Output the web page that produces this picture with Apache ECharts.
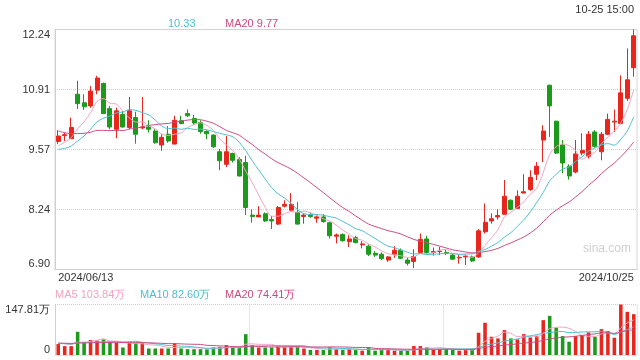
<!DOCTYPE html>
<html>
<head>
<meta charset="utf-8">
<script src="https://cdn.jsdelivr.net/npm/echarts@6/dist/echarts.min.js"></script>
<style>
html,body{margin:0;padding:0;background:#fff;}
#chart{width:640px;height:360px;}
</style>
</head>
<body>
<div id="chart"></div>
<script>
// ---- Data ----
const dates = [
 '2024/06/13','2024/06/14','2024/06/17','2024/06/18','2024/06/19','2024/06/20','2024/06/21','2024/06/24','2024/06/25','2024/06/26','2024/06/27','2024/06/28',
 '2024/07/01','2024/07/02','2024/07/03','2024/07/04','2024/07/05','2024/07/08','2024/07/09','2024/07/10','2024/07/11','2024/07/12','2024/07/15','2024/07/16','2024/07/17','2024/07/18','2024/07/19','2024/07/22','2024/07/23','2024/07/24','2024/07/25','2024/07/26','2024/07/29','2024/07/30','2024/07/31',
 '2024/08/01','2024/08/02','2024/08/05','2024/08/06','2024/08/07','2024/08/08','2024/08/09','2024/08/12','2024/08/13','2024/08/14','2024/08/15','2024/08/16','2024/08/19','2024/08/20','2024/08/21','2024/08/22','2024/08/23','2024/08/26','2024/08/27','2024/08/28','2024/08/29','2024/08/30',
 '2024/09/02','2024/09/03','2024/09/04','2024/09/05','2024/09/06','2024/09/09','2024/09/10','2024/09/11','2024/09/12','2024/09/13','2024/09/18','2024/09/19','2024/09/20','2024/09/23','2024/09/24','2024/09/25','2024/09/26','2024/09/27','2024/09/30',
 '2024/10/08','2024/10/09','2024/10/10','2024/10/11','2024/10/14','2024/10/15','2024/10/16','2024/10/17','2024/10/18','2024/10/21','2024/10/22','2024/10/23','2024/10/24','2024/10/25'
];
const opens  = [9.75,9.88,9.81,10.80,10.61,10.54,10.89,11.04,10.48,10.02,10.35,10.06,10.28,10.05,10.07,9.98,9.67,9.91,9.69,10.21,10.37,10.26,10.17,9.97,9.89,9.52,9.24,9.48,9.35,9.28,8.11,8.07,8.14,8.01,7.91,8.31,8.22,8.17,8.08,8.11,8.04,8.07,7.94,7.64,7.68,7.52,7.61,7.45,7.42,7.26,7.24,7.11,7.24,7.33,7.11,7.08,7.28,7.58,7.28,7.30,7.28,7.22,7.16,7.18,7.18,7.18,7.74,7.98,8.07,8.13,8.44,8.26,8.60,8.68,9.02,9.78,11.00,10.20,9.67,9.20,9.07,9.49,9.42,9.96,9.52,9.91,10.18,10.15,10.71,11.39];
const closes = [9.87,9.90,10.06,10.59,10.52,10.87,11.16,10.37,10.07,10.43,10.07,10.43,9.91,10.07,10.02,9.72,9.84,9.76,10.22,10.15,10.32,10.16,9.97,9.92,9.63,9.32,9.52,9.33,8.98,8.28,8.08,8.11,7.98,7.98,8.28,8.35,8.35,7.91,8.11,8.08,8.07,7.97,7.65,7.67,7.54,7.58,7.50,7.47,7.24,7.22,7.14,7.18,7.33,7.15,7.04,7.19,7.57,7.28,7.30,7.31,7.26,7.13,7.17,7.20,7.09,7.76,7.95,8.03,8.10,8.53,8.24,8.53,8.63,8.95,9.20,9.98,10.54,9.49,9.27,8.98,9.47,9.55,9.91,9.64,9.91,10.24,10.20,10.83,11.12,12.10];
const lows   = [9.69,9.76,9.80,10.47,10.45,10.50,10.80,10.36,10.02,9.82,10.06,10.02,9.70,10.02,9.95,9.70,9.54,9.72,9.69,10.13,10.29,10.12,9.92,9.80,9.60,9.11,9.18,9.28,8.97,8.11,7.94,8.07,7.96,7.80,7.89,8.28,8.20,7.90,7.92,8.05,7.94,7.94,7.59,7.48,7.52,7.40,7.48,7.37,7.20,7.18,7.11,7.07,7.16,7.13,6.99,6.93,7.25,7.24,7.21,7.22,7.22,7.12,7.03,7.00,7.07,7.16,7.70,7.92,8.01,8.12,8.22,8.25,8.60,8.65,8.89,9.29,9.85,9.47,9.04,8.90,9.04,9.44,9.37,9.61,9.33,9.89,9.96,10.13,10.65,11.19];
const highs  = [10.00,9.94,10.28,11.10,10.80,10.98,11.21,11.06,10.54,10.50,10.43,10.74,10.41,10.74,10.22,10.02,9.91,10.09,10.32,10.32,10.46,10.34,10.22,10.00,9.91,9.58,9.87,9.50,9.40,9.43,8.24,8.31,8.17,8.09,8.31,8.44,8.60,8.40,8.14,8.17,8.11,8.13,7.96,7.70,7.70,7.66,7.65,7.53,7.46,7.31,7.28,7.20,7.42,7.37,7.16,7.35,7.70,7.65,7.39,7.40,7.35,7.24,7.22,7.24,7.21,7.80,8.37,8.15,8.24,8.89,8.46,8.66,9.02,9.11,9.29,10.11,11.01,10.21,9.78,9.24,9.78,9.93,9.98,10.00,9.96,10.37,10.46,11.22,11.82,12.24];
// volume in 万 (10k shares)
const volumes = [32,26,26,68,36,44,42,46,36,36,22,36,36,36,19,19,19,19,34,19,17,17,17,17,22,24,29,22,22,61,29,22,22,22,24,24,24,24,19,15,15,
 14.6,22.4,17.5,14.6,17.5,14.6,12.6,22.4,12.6,14.6,14.6,12.6,12.6,12.6,26.2,26.2,22.4,14.6,17.5,17.5,14.6,12.6,14.6,14.6,65.1,94.3,53.4,48.6,72.9,48.6,45.7,61.2,51.5,56.4,102,114.7,79.7,55.4,38.9,55.4,58.3,66.1,53.4,75.8,70.0,50.5,147.81,126.3,119.5];
// sessions before the visible window (estimated from the moving-average curves)
const priorCloses = [10.6,10.5,10.55,10.4,10.45,10.3,10.35,10.2,10.3,10.2,9.7,9.55,9.45,9.4,9.4,9.5,9.55,9.6,9.73];
const priorVolumes = [38,35,40,33,36,30,42,37,34,31,36,39,33,35,30,34,37,32,36];
// axis ticks
const priceTicks = ['6.90','8.24','9.57','10.91','12.24'];
const priceMin = 6.90, priceMax = 12.24;
const volTicks = ['0','147.81万'];
const volMax = 147.81;
// header texts
const headerTime = '10-25 15:00';
const priceMaText = ['10.33','MA20 9.77'];
const volMaText = ['MA5 103.84万','MA10 82.60万','MA20 74.41万'];

// ---- Build ----
const UP = '#e8261e', DOWN = '#1c9a1c';
const C5 = '#f3a3c0', C10 = '#4dbfd0', C20 = '#cc4a82';
const FONT = 'Liberation Sans, Arial, sans-serif';
const step = (priceMax - priceMin) / (priceTicks.length - 1);

function movingAvg(vals, prior, n, shift) {
  const all = prior.concat(vals);
  const out = [];
  for (let i = 0; i < vals.length; i++) {
    const end = prior.length + i;
    let s = 0, c = 0;
    for (let k = Math.max(0, end - n + 1); k <= end; k++) { s += all[k]; c++; }
    out.push(+(s / c - shift).toFixed(4));
  }
  return out;
}

const candleData = opens.map((o, i) => [o - priceMin, closes[i] - priceMin, lows[i] - priceMin, highs[i] - priceMin]);
const volData = volumes.map((v, i) => ({ value: v, itemStyle: { color: closes[i] >= opens[i] ? UP : DOWN } }));

const chart = echarts.init(document.getElementById('chart'), null, { renderer: 'canvas' });
const lineS = (name, data, color, x, y) => ({
  name, type: 'line', data, xAxisIndex: x, yAxisIndex: y, smooth: 0.3, symbol: 'none',
  lineStyle: { width: 1, color }, itemStyle: { color }, z: 3, silent: true
});

chart.setOption({
  animation: false,
  textStyle: { fontFamily: FONT },
  grid: [
    { left: 55, top: 29.5, width: 582, height: 240, show: true, borderColor: '#d6d6d6', borderWidth: 1 },
    { left: 55, top: 304.5, width: 582, height: 50.5 }
  ],
  xAxis: [
    { type: 'category', gridIndex: 0, data: dates, boundaryGap: true,
      axisLine: { show: true, lineStyle: { color: '#cfcfcf' } }, axisTick: { show: false },
      axisLabel: { show: true, interval: (idx) => idx === 0 || idx === dates.length - 1,
        color: '#333', fontSize: 11, margin: 3, alignMinLabel: 'left', alignMaxLabel: 'right', fontFamily: FONT },
      splitLine: { show: false } },
    { type: 'category', gridIndex: 1, data: dates, boundaryGap: true,
      axisLine: { show: true, lineStyle: { color: '#e0e0e0' } }, axisTick: { show: false }, axisLabel: { show: false },
      splitLine: { show: true, interval: 29, lineStyle: { color: '#d0d0d0', type: 'dotted' } } }
  ],
  yAxis: [
    { type: 'value', gridIndex: 0, min: 0, max: priceMax - priceMin, interval: step, scale: false,
      axisLine: { show: true, lineStyle: { color: '#cfcfcf' } }, axisTick: { show: false },
      axisLabel: { color: '#333', fontSize: 11, margin: 5, fontFamily: FONT,
        verticalAlignMinLabel: 'bottom', verticalAlignMaxLabel: 'top',
        formatter: (v) => priceTicks[Math.round(v / step)] },
      splitLine: { show: true, lineStyle: { color: '#cfcfcf', type: 'dotted' } } },
    { type: 'value', gridIndex: 1, min: 0, max: volMax, interval: volMax,
      axisLine: { show: true, lineStyle: { color: '#cfcfcf' } }, axisTick: { show: false },
      axisLabel: { color: '#333', fontSize: 11, margin: 5, fontFamily: FONT,
        verticalAlignMinLabel: 'bottom', verticalAlignMaxLabel: 'top',
        formatter: (v) => (v === 0 ? volTicks[0] : volTicks[1]) },
      splitLine: { show: true, lineStyle: { color: '#cfcfcf', type: 'dotted' } } }
  ],
  series: [
    { name: 'K', type: 'candlestick', xAxisIndex: 0, yAxisIndex: 0, data: candleData, barWidth: '70%',
      itemStyle: { color: UP, color0: DOWN, borderColor: UP, borderColor0: DOWN, borderWidth: 1 }, z: 2 },
    lineS('MA5', movingAvg(closes, priorCloses, 5, priceMin), C5, 0, 0),
    lineS('MA10', movingAvg(closes, priorCloses, 10, priceMin), C10, 0, 0),
    lineS('MA20', movingAvg(closes, priorCloses, 20, priceMin), C20, 0, 0),
    { name: 'VOL', type: 'bar', xAxisIndex: 1, yAxisIndex: 1, data: volData, barWidth: '55%', z: 2 },
    lineS('VMA5', movingAvg(volumes, priorVolumes, 5, 0), C5, 1, 1),
    lineS('VMA10', movingAvg(volumes, priorVolumes, 10, 0), C10, 1, 1),
    lineS('VMA20', movingAvg(volumes, priorVolumes, 20, 0), C20, 1, 1)
  ],
  graphic: [
    { type: 'text', right: 6, top: 4, style: { text: headerTime, fill: '#333', font: '11px ' + FONT } },
    { type: 'text', left: 168, top: 18, style: { text: priceMaText[0], fill: C10, font: '11px ' + FONT } },
    { type: 'text', left: 225, top: 18, style: { text: priceMaText[1], fill: C20, font: '11px ' + FONT } },
    { type: 'text', left: 55, top: 289, style: { text: volMaText[0], fill: C5, font: '11px ' + FONT } },
    { type: 'text', left: 140, top: 289, style: { text: volMaText[1], fill: C10, font: '11px ' + FONT } },
    { type: 'text', left: 225, top: 289, style: { text: volMaText[2], fill: C20, font: '11px ' + FONT } },
    { type: 'text', left: 583, top: 243, style: { text: 'sina.com', fill: '#cfcfcf', font: '12px ' + FONT } }
  ]
});
</script>
</body>
</html>
